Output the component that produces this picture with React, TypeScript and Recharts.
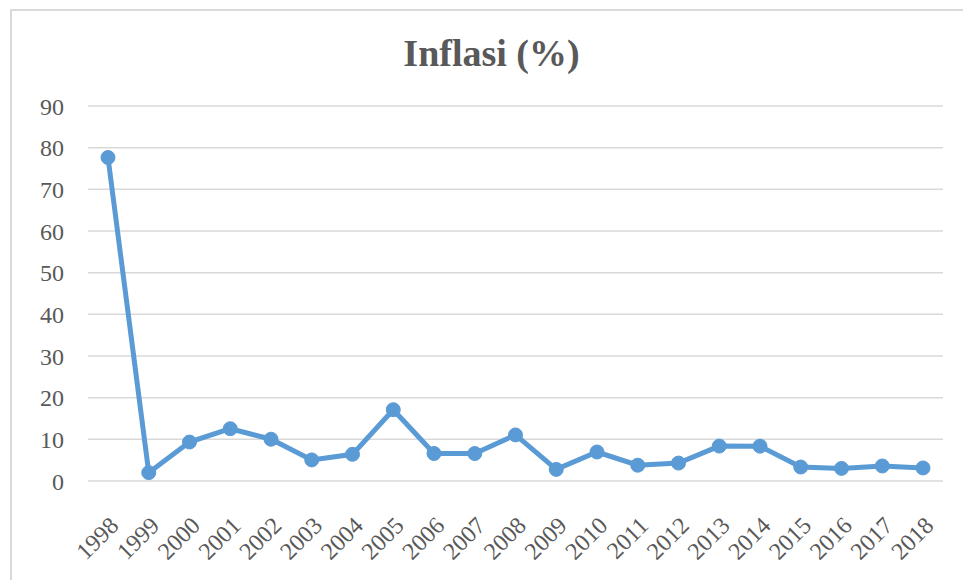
import React from "react";
import { CartesianGrid, Line, LineChart, XAxis, YAxis } from "recharts";

const years = [
    "1998", "1999", "2000", "2001", "2002", "2003", "2004", "2005", "2006", "2007", "2008",
    "2009", "2010", "2011", "2012", "2013", "2014", "2015", "2016", "2017", "2018"
];
const inflasi = [
    77.63, 2.01, 9.35, 12.55, 10.03, 5.06, 6.4, 17.11, 6.6, 6.59, 11.06,
    2.78, 6.96, 3.79, 4.3, 8.38, 8.36, 3.35, 3.02, 3.61, 3.13
];
const yTicks = [0, 10, 20, 30, 40, 50, 60, 70, 80, 90];

const data = years.map((year, i) => ({ year, value: inflasi[i] }));

const textColor = "#595959";
const font = "Liberation Serif";

export default function App() {
    return (
        <div
            style={{
                position: "absolute",
                left: 0,
                top: 0,
                width: 963,
                height: 580,
                overflow: "hidden",
                background: "#fff",
                fontFamily: font,
            }}
        >
            <div
                style={{
                    position: "absolute",
                    left: 10,
                    top: 9,
                    width: 1000,
                    height: 1000,
                    border: "2px solid #d9d9d9",
                }}
            />
            <div
                style={{
                    position: "absolute",
                    left: 0,
                    top: 31,
                    width: 983,
                    textAlign: "center",
                    fontWeight: "bold",
                    fontSize: 38,
                    color: textColor,
                    lineHeight: "44px",
                }}
            >
                Inflasi (%)
            </div>
            <div style={{ position: "absolute", left: 0, top: 0 }}>
                <LineChart
                    width={963}
                    height={580}
                    data={data}
                    margin={{ top: 106, right: 20, left: 0, bottom: 20 }}
                    style={{ fontFamily: font }}
                >
                    <CartesianGrid vertical={false} stroke="#d9d9d9" strokeWidth={1.5} />
                    <XAxis
                        dataKey="year"
                        axisLine={false}
                        tickLine={false}
                        interval={0}
                        height={79}
                        padding={{ left: 20, right: 20 }}
                        angle={-45}
                        textAnchor="end"
                        tick={{ fill: textColor, fontSize: 24, fontFamily: font, dx: 0, dy: 26 }}
                    />
                    <YAxis
                        domain={[0, 90]}
                        ticks={yTicks}
                        width={88}
                        axisLine={false}
                        tickLine={false}
                        tickMargin={18}
                        tick={{ fill: textColor, fontSize: 24, fontFamily: font }}
                    />
                    <Line
                        type="linear"
                        dataKey="value"
                        stroke="#5b9bd5"
                        strokeWidth={5}
                        dot={{ r: 7, fill: "#5b9bd5", stroke: "#5b9bd5", strokeWidth: 1 }}
                        isAnimationActive={false}
                    />
                </LineChart>
            </div>
        </div>
    );
}
